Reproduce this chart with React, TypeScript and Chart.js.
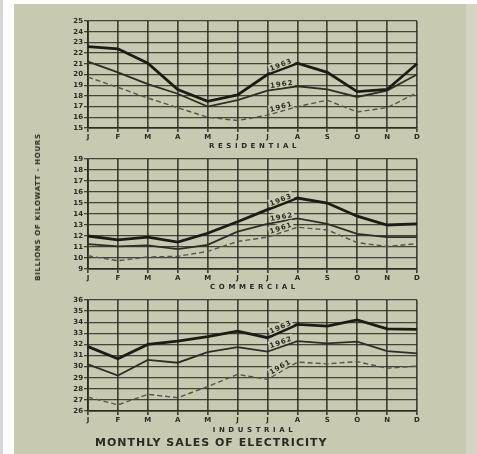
import React, { useEffect, useRef } from "react";
import { Chart, registerables } from "chart.js";

Chart.register(...registerables);

// Month initials along each horizontal axis
const months = ["J", "F", "M", "A", "M", "J", "J", "A", "S", "O", "N", "D"];
const years = ["1963", "1962", "1961"];

// Billions of kilowatt-hours per month
const residential1963 = [22.6, 22.4, 21.05, 18.6, 17.5, 18.1, 20.0, 21.05, 20.2, 18.4, 18.6, 21.0];
const residential1962 = [21.2, 20.2, 19.1, 18.2, 17.0, 17.6, 18.5, 18.9, 18.6, 17.9, 18.5, 20.0];
const residential1961 = [19.75, 18.8, 17.8, 16.9, 16.0, 15.7, 16.2, 17.0, 17.6, 16.5, 16.9, 18.3];

const commercial1963 = [12.0, 11.65, 11.9, 11.45, 12.25, 13.3, 14.4, 15.45, 15.0, 13.8, 13.0, 13.1];
const commercial1962 = [11.27, 11.05, 11.15, 10.8, 11.2, 12.4, 13.1, 13.6, 13.1, 12.2, 11.9, 11.9];
const commercial1961 = [10.2, 9.75, 10.1, 10.15, 10.6, 11.5, 11.9, 12.8, 12.55, 11.4, 11.05, 11.3];

const industrial1963 = [31.8, 30.7, 32.0, 32.3, 32.7, 33.2, 32.6, 33.8, 33.65, 34.2, 33.4, 33.35];
const industrial1962 = [30.2, 29.2, 30.6, 30.35, 31.3, 31.75, 31.35, 32.3, 32.1, 32.25, 31.4, 31.2];
const industrial1961 = [27.25, 26.55, 27.5, 27.2, 28.2, 29.3, 28.85, 30.4, 30.25, 30.45, 29.85, 30.05];

// Axis ranges (min, max) for each sector
const residentialRange = [15, 25];
const commercialRange = [9, 19];
const industrialRange = [26, 36];

const PAPER = "#c9c9b2";
const INK = "#2a2a24";
const GRID = "rgba(38,38,32,0.82)";
const FONT = "'DejaVu Sans', sans-serif";

type PanelDef = {
  title: string;
  range: number[];
  series: number[][];
  top: number; // chart-area top in page pixels
  bottom: number; // chart-area bottom
  titleY: number; // centre of the sector caption
};

const panels: PanelDef[] = [
  {
    title: "RESIDENTIAL",
    range: residentialRange,
    series: [residential1963, residential1962, residential1961],
    top: 21,
    bottom: 128,
    titleY: 146,
  },
  {
    title: "COMMERCIAL",
    range: commercialRange,
    series: [commercial1963, commercial1962, commercial1961],
    top: 159,
    bottom: 269,
    titleY: 287,
  },
  {
    title: "INDUSTRIAL",
    range: industrialRange,
    series: [industrial1963, industrial1962, industrial1961],
    top: 300,
    bottom: 411,
    titleY: 430,
  },
];

const lineStyles = [
  { color: "#1c1c17", width: 2.8, dash: [] as number[] },
  { color: "#2e2e28", width: 1.8, dash: [] as number[] },
  { color: "#55554c", width: 1.4, dash: [5, 3] },
];

const PAD_TOP = 10;
const AREA_LEFT = 88;
const AREA_RIGHT = 417;
const W = 477;

// Year tags written along the July–August segment of each line,
// plus the letter-spaced sector caption under the month initials.
const annotations = {
  id: "annotations",
  afterDatasetsDraw(chart: any) {
    const ctx = chart.ctx as CanvasRenderingContext2D;
    chart.data.datasets.forEach((ds: any, i: number) => {
      const meta = chart.getDatasetMeta(i);
      const a = meta.data[6];
      const b = meta.data[7];
      if (!a || !b) return;
      const mx = (a.x + b.x) / 2;
      const my = (a.y + b.y) / 2;
      const ang = Math.atan2(b.y - a.y, b.x - a.x);
      ctx.save();
      ctx.translate(mx, my);
      ctx.rotate(ang);
      ctx.font = `bold 7px ${FONT}`;
      (ctx as any).letterSpacing = "1px";
      const w = ctx.measureText(ds.label).width;
      ctx.fillStyle = PAPER;
      ctx.fillRect(-w / 2 - 1, -9, w + 2, 8);
      ctx.fillStyle = INK;
      ctx.textAlign = "center";
      ctx.textBaseline = "middle";
      ctx.fillText(ds.label, 0, -4);
      ctx.restore();
    });
  },
  afterDraw(chart: any, _args: any, opts: any) {
    const ctx = chart.ctx as CanvasRenderingContext2D;
    const area = chart.chartArea;
    ctx.save();
    ctx.font = `bold 7px ${FONT}`;
    (ctx as any).letterSpacing = "3.6px";
    ctx.fillStyle = INK;
    ctx.textAlign = "center";
    ctx.textBaseline = "middle";
    ctx.fillText(opts.title, (area.left + area.right) / 2 + 2, opts.titleOffset);
    ctx.restore();
  },
};

function Panel({ def }: { def: PanelDef }) {
  const ref = useRef<HTMLCanvasElement>(null);
  const canvasTop = def.top - PAD_TOP;
  const canvasH = def.titleY + 8 - canvasTop;
  const xAxisH = def.titleY + 8 - def.bottom;

  useEffect(() => {
    if (!ref.current) return;
    const chart = new Chart(ref.current, {
      type: "line",
      data: {
        labels: months,
        datasets: def.series.map((values, i) => ({
          label: years[i],
          data: values,
          borderColor: lineStyles[i].color,
          borderWidth: lineStyles[i].width,
          borderDash: lineStyles[i].dash,
          pointRadius: 0,
          tension: 0,
          fill: false,
        })),
      },
      options: {
        responsive: false,
        animation: false,
        devicePixelRatio: 1,
        layout: {
          padding: { left: AREA_LEFT - 20, right: W - AREA_RIGHT, top: PAD_TOP, bottom: 0 },
        },
        plugins: {
          legend: { display: false },
          tooltip: { enabled: false },
          annotations: { title: def.title, titleOffset: def.titleY - canvasTop },
        } as any,
        scales: {
          x: {
            type: "category",
            offset: false,
            grid: { color: GRID, lineWidth: 1.7, tickLength: 4, drawTicks: true },
            border: { display: true, color: GRID, width: 1.8 },
            ticks: {
              color: INK,
              font: { family: FONT, size: 7, weight: "bold" },
              padding: 1,
              maxRotation: 0,
              autoSkip: false,
            },
            afterFit(scale: any) {
              scale.height = xAxisH;
            },
          },
          y: {
            min: def.range[0],
            max: def.range[1],
            grid: { color: GRID, lineWidth: 1.3, tickLength: 4, drawTicks: true },
            border: { display: true, color: GRID, width: 1.8 },
            ticks: {
              stepSize: 1,
              autoSkip: false,
              color: INK,
              font: { family: FONT, size: 7, weight: "bold" },
              padding: 1,
            },
            afterFit(scale: any) {
              scale.width = 20;
            },
          },
        },
      },
      plugins: [annotations],
    });
    return () => chart.destroy();
  }, []);

  return (
    <canvas
      ref={ref}
      width={W}
      height={canvasH}
      style={{ position: "absolute", left: 0, top: canvasTop, width: W, height: canvasH }}
    />
  );
}

export default function App() {
  return (
    <div
      style={{
        position: "fixed",
        left: 0,
        top: 0,
        width: W,
        height: 454,
        background: "#ffffff",
        overflow: "hidden",
      }}
    >
      <div style={{ position: "absolute", left: 0, top: 0, width: 3, height: 454, background: "#d6d6d6" }} />
      <div style={{ position: "absolute", left: 14, top: 4, width: 452, height: 450, background: PAPER }} />
      <div style={{ position: "absolute", left: 466, top: 4, width: 11, height: 450, background: "#d4d4c4" }} />
      {panels.map((p) => (
        <Panel key={p.title} def={p} />
      ))}
      <div
        style={{
          position: "absolute",
          left: 38,
          top: 207,
          transform: "translate(-50%, -50%) rotate(-90deg)",
          whiteSpace: "nowrap",
          font: `bold 7px ${FONT}`,
          letterSpacing: "0.7px",
          color: INK,
        }}
      >
        BILLIONS OF KILOWATT - HOURS
      </div>
      <div
        style={{
          position: "absolute",
          left: 95,
          top: 436,
          whiteSpace: "nowrap",
          font: `bold 11px ${FONT}`,
          letterSpacing: "1px",
          color: INK,
          lineHeight: "14px",
        }}
      >
        MONTHLY SALES OF ELECTRICITY
      </div>
    </div>
  );
}
